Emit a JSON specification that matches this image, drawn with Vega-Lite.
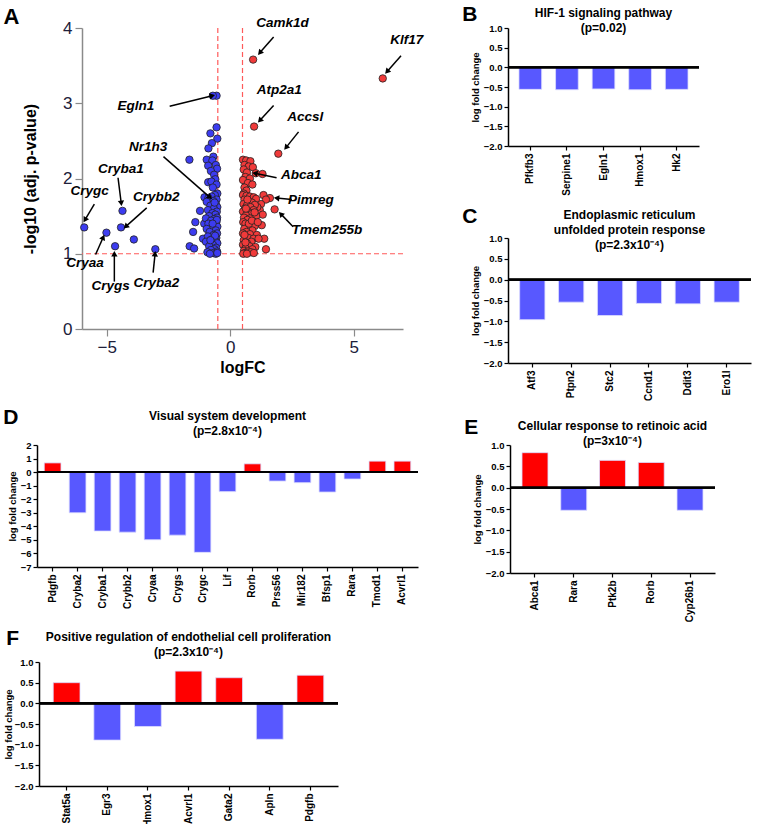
{
"$schema": "https://vega.github.io/schema/vega-lite/v6.json",
"background": "white",
"padding": {"left": 0, "top": 4, "right": 0, "bottom": 0},
"datasets": {
 "ann": [
  {"gene": "Camk1d", "tx": 2.12, "ty": 4.07, "x1": 1.76, "y1": 3.88, "x2": 1.20, "y2": 3.67},
  {"gene": "Klf17", "tx": 7.15, "ty": 3.84, "x1": 6.92, "y1": 3.63, "x2": 6.35, "y2": 3.42},
  {"gene": "Atp2a1", "tx": 1.99, "ty": 3.18, "x1": 1.76, "y1": 2.97, "x2": 1.20, "y2": 2.77},
  {"gene": "Accsl", "tx": 3.04, "ty": 2.82, "x1": 2.77, "y1": 2.62, "x2": 2.26, "y2": 2.41},
  {"gene": "Abca1", "tx": 2.88, "ty": 2.05, "x1": 1.88, "y1": 2.01, "x2": 1.00, "y2": 2.07},
  {"gene": "Pimreg", "tx": 3.27, "ty": 1.71, "x1": 2.50, "y1": 1.72, "x2": 1.88, "y2": 1.74},
  {"gene": "Tmem255b", "tx": 3.92, "ty": 1.31, "x1": 2.55, "y1": 1.36, "x2": 2.05, "y2": 1.53},
  {"gene": "Egln1", "tx": -3.82, "ty": 2.96, "x1": -2.45, "y1": 2.96, "x2": -0.72, "y2": 3.10},
  {"gene": "Nr1h3", "tx": -3.32, "ty": 2.42, "x1": -2.70, "y1": 2.29, "x2": -0.82, "y2": 1.75},
  {"gene": "Cryba1", "tx": -4.43, "ty": 2.12, "x1": -4.54, "y1": 2.01, "x2": -4.41, "y2": 1.67},
  {"gene": "Crygc", "tx": -5.69, "ty": 1.84, "x1": -5.50, "y1": 1.66, "x2": -5.88, "y2": 1.45},
  {"gene": "Crybb2", "tx": -2.99, "ty": 1.75, "x1": -3.38, "y1": 1.61, "x2": -4.23, "y2": 1.36},
  {"gene": "Cryaa", "tx": -5.88, "ty": 0.88, "x1": -5.45, "y1": 0.99, "x2": -5.14, "y2": 1.22},
  {"gene": "Crygs", "tx": -4.84, "ty": 0.57, "x1": -4.69, "y1": 0.63, "x2": -4.69, "y2": 1.00},
  {"gene": "Cryba2", "tx": -2.99, "ty": 0.61, "x1": -3.12, "y1": 0.75, "x2": -3.04, "y2": 1.00}
 ]
},
"config": {
  "view": {"stroke": null},
  "font": "Liberation Sans",
  "axis": {"grid": false, "labelOverlap": false, "domainColor": "#000", "domainWidth": 1.5, "tickColor": "#000", "tickWidth": 1.2, "tickSize": 4, "labelFont": "Liberation Sans", "labelFontWeight": "bold", "labelFontSize": 9.5, "labelColor": "#000", "titleFont": "Liberation Sans", "titleFontWeight": "bold", "titleFontSize": 9.5, "titleColor": "#000", "labelPadding": 2, "titlePadding": 3},
  "axisX": {"labelFontSize": 10},
  "title": {"font": "Liberation Sans", "fontWeight": "bold", "color": "#000", "fontSize": 12, "lineHeight": 15}
},
"vconcat": [
 {"vconcat": [
  {"hconcat": [
    {"width": 1, "height": 1, "data": {"values": []}, "mark": "point"},
    {"hconcat": [
      {
       "width": 321, "height": 301,
       "title": {"text": "A", "anchor": "start", "frame": "bounds", "dx": -19, "fontSize": 22, "offset": -13},
       "layer": [
        {"data": {"values": [{"v": -0.5}, {"v": 0.5}]},
         "mark": {"type": "rule", "color": "#ff5a5a", "strokeDash": [5, 3], "strokeWidth": 1.2},
         "encoding": {"x": {"field": "v", "type": "quantitative", "scale": {"domain": [-6, 7], "nice": false}}}},
        {"data": {"values": [{"v": 1}]},
         "mark": {"type": "rule", "color": "#ff5a5a", "strokeDash": [5, 3], "strokeWidth": 1.2},
         "encoding": {"y": {"field": "v", "type": "quantitative", "scale": {"domain": [0, 4], "nice": false}}}},
        {"data": {"values": [
          {"logFC": -0.55, "nlp": 3.10}, {"logFC": -0.70, "nlp": 3.10},
          {"logFC": -0.55, "nlp": 2.68}, {"logFC": -0.80, "nlp": 2.60}, {"logFC": -0.52, "nlp": 2.53}, {"logFC": -0.74, "nlp": 2.47}, {"logFC": -0.88, "nlp": 2.40}, {"logFC": -0.68, "nlp": 2.29}, {"logFC": -0.95, "nlp": 2.25}, {"logFC": -0.72, "nlp": 2.24}, {"logFC": -0.58, "nlp": 2.18}, {"logFC": -0.89, "nlp": 2.17}, {"logFC": -0.53, "nlp": 2.13}, {"logFC": -0.78, "nlp": 2.10}, {"logFC": -0.65, "nlp": 2.05}, {"logFC": -0.60, "nlp": 1.99}, {"logFC": -0.89, "nlp": 1.95}, {"logFC": -0.76, "nlp": 1.96}, {"logFC": -0.55, "nlp": 1.92}, {"logFC": -0.70, "nlp": 1.88},
          {"logFC": -1.65, "nlp": 2.25}, {"logFC": -1.22, "nlp": 1.57}, {"logFC": -1.41, "nlp": 1.42}, {"logFC": -1.50, "nlp": 1.29}, {"logFC": -1.64, "nlp": 1.10}, {"logFC": -1.46, "nlp": 1.07}, {"logFC": -1.04, "nlp": 1.75}, {"logFC": -1.10, "nlp": 1.20}, {"logFC": -1.05, "nlp": 1.40},
          {"logFC": -0.52, "nlp": 1.80}, {"logFC": -0.62, "nlp": 1.78}, {"logFC": -0.75, "nlp": 1.76}, {"logFC": -0.88, "nlp": 1.74}, {"logFC": -0.55, "nlp": 1.72}, {"logFC": -0.68, "nlp": 1.70}, {"logFC": -0.95, "nlp": 1.69}, {"logFC": -0.58, "nlp": 1.66}, {"logFC": -0.80, "nlp": 1.64}, {"logFC": -0.52, "nlp": 1.62}, {"logFC": -0.66, "nlp": 1.60}, {"logFC": -0.90, "nlp": 1.58}, {"logFC": -0.54, "nlp": 1.56}, {"logFC": -0.72, "nlp": 1.54}, {"logFC": -0.60, "nlp": 1.52}, {"logFC": -0.85, "nlp": 1.50}, {"logFC": -0.53, "nlp": 1.48}, {"logFC": -0.98, "nlp": 1.47}, {"logFC": -0.65, "nlp": 1.46}, {"logFC": -0.77, "nlp": 1.44}, {"logFC": -0.56, "nlp": 1.42}, {"logFC": -0.88, "nlp": 1.40}, {"logFC": -0.62, "nlp": 1.38}, {"logFC": -0.52, "nlp": 1.36}, {"logFC": -0.74, "nlp": 1.34}, {"logFC": -0.95, "nlp": 1.33}, {"logFC": -0.58, "nlp": 1.31}, {"logFC": -0.83, "nlp": 1.29}, {"logFC": -0.53, "nlp": 1.27}, {"logFC": -0.67, "nlp": 1.25}, {"logFC": -0.90, "nlp": 1.23}, {"logFC": -0.56, "nlp": 1.21}, {"logFC": -0.75, "nlp": 1.19}, {"logFC": -0.60, "nlp": 1.17}, {"logFC": -0.98, "nlp": 1.16}, {"logFC": -0.52, "nlp": 1.14}, {"logFC": -0.70, "nlp": 1.12}, {"logFC": -0.85, "nlp": 1.10}, {"logFC": -0.57, "nlp": 1.08}, {"logFC": -0.64, "nlp": 1.06}, {"logFC": -0.78, "nlp": 1.05}, {"logFC": -0.53, "nlp": 1.03}, {"logFC": -0.92, "nlp": 1.02}, {"logFC": -0.68, "nlp": 1.01}, {"logFC": -0.58, "nlp": 1.00}, {"logFC": -0.82, "nlp": 1.00}, {"logFC": -0.52, "nlp": 1.01}, {"logFC": -0.61, "nlp": 1.24}, {"logFC": -0.54, "nlp": 1.45}, {"logFC": -0.63, "nlp": 1.68}, {"logFC": -0.71, "nlp": 1.40}, {"logFC": -0.80, "nlp": 1.18},
          {"logFC": -5.91, "nlp": 1.35}, {"logFC": -4.36, "nlp": 1.57}, {"logFC": -4.42, "nlp": 1.35}, {"logFC": -5.01, "nlp": 1.28}, {"logFC": -4.66, "nlp": 1.10}, {"logFC": -3.03, "nlp": 1.06}, {"logFC": -3.90, "nlp": 1.19},
          {"logFC": 0.52, "nlp": 2.25}, {"logFC": 0.65, "nlp": 2.24}, {"logFC": 0.82, "nlp": 2.23}, {"logFC": 0.58, "nlp": 2.18}, {"logFC": 0.75, "nlp": 2.16}, {"logFC": 0.92, "nlp": 2.15}, {"logFC": 0.55, "nlp": 2.12}, {"logFC": 0.68, "nlp": 2.08}, {"logFC": 1.04, "nlp": 2.07}, {"logFC": 1.31, "nlp": 2.06}, {"logFC": 0.62, "nlp": 2.02}, {"logFC": 0.80, "nlp": 2.00}, {"logFC": 0.52, "nlp": 1.98}, {"logFC": 0.72, "nlp": 1.94}, {"logFC": 0.90, "nlp": 1.92}, {"logFC": 0.58, "nlp": 1.88}, {"logFC": 0.66, "nlp": 1.84}, {"logFC": 0.55, "nlp": 1.80},
          {"logFC": 0.93, "nlp": 3.58}, {"logFC": 6.18, "nlp": 3.33}, {"logFC": 0.97, "nlp": 2.69}, {"logFC": 1.95, "nlp": 2.33}, {"logFC": 1.61, "nlp": 1.74}, {"logFC": 1.80, "nlp": 1.59}, {"logFC": 1.35, "nlp": 1.78}, {"logFC": 1.45, "nlp": 1.72}, {"logFC": 1.25, "nlp": 1.66}, {"logFC": 1.20, "nlp": 1.58}, {"logFC": 1.32, "nlp": 1.52}, {"logFC": 1.28, "nlp": 1.38}, {"logFC": 1.38, "nlp": 1.20}, {"logFC": 1.45, "nlp": 1.06}, {"logFC": 1.10, "nlp": 1.62},
          {"logFC": 0.52, "nlp": 1.78}, {"logFC": 0.66, "nlp": 1.77}, {"logFC": 0.80, "nlp": 1.76}, {"logFC": 0.95, "nlp": 1.75}, {"logFC": 1.05, "nlp": 1.73}, {"logFC": 0.58, "nlp": 1.72}, {"logFC": 0.73, "nlp": 1.70}, {"logFC": 0.88, "nlp": 1.68}, {"logFC": 0.54, "nlp": 1.66}, {"logFC": 1.00, "nlp": 1.65}, {"logFC": 0.68, "nlp": 1.64}, {"logFC": 0.82, "nlp": 1.62}, {"logFC": 0.60, "nlp": 1.60}, {"logFC": 0.95, "nlp": 1.58}, {"logFC": 0.52, "nlp": 1.56}, {"logFC": 0.75, "nlp": 1.55}, {"logFC": 0.88, "nlp": 1.53}, {"logFC": 0.64, "nlp": 1.51}, {"logFC": 1.05, "nlp": 1.50}, {"logFC": 0.56, "nlp": 1.48}, {"logFC": 0.80, "nlp": 1.47}, {"logFC": 0.70, "nlp": 1.45}, {"logFC": 0.93, "nlp": 1.43}, {"logFC": 0.53, "nlp": 1.42}, {"logFC": 0.62, "nlp": 1.40}, {"logFC": 0.85, "nlp": 1.38}, {"logFC": 1.00, "nlp": 1.37}, {"logFC": 0.72, "nlp": 1.35}, {"logFC": 0.57, "nlp": 1.33}, {"logFC": 0.90, "nlp": 1.31}, {"logFC": 0.66, "nlp": 1.29}, {"logFC": 0.52, "nlp": 1.27}, {"logFC": 0.80, "nlp": 1.26}, {"logFC": 1.08, "nlp": 1.25}, {"logFC": 0.60, "nlp": 1.23}, {"logFC": 0.74, "nlp": 1.21}, {"logFC": 0.95, "nlp": 1.20}, {"logFC": 0.55, "nlp": 1.18}, {"logFC": 0.86, "nlp": 1.16}, {"logFC": 0.68, "nlp": 1.14}, {"logFC": 0.52, "nlp": 1.12}, {"logFC": 0.78, "nlp": 1.10}, {"logFC": 1.02, "nlp": 1.09}, {"logFC": 0.62, "nlp": 1.07}, {"logFC": 0.90, "nlp": 1.06}, {"logFC": 0.56, "nlp": 1.04}, {"logFC": 0.72, "nlp": 1.03}, {"logFC": 0.84, "nlp": 1.02}, {"logFC": 0.60, "nlp": 1.01}, {"logFC": 0.53, "nlp": 1.00}, {"logFC": 0.68, "nlp": 1.00}, {"logFC": 0.96, "nlp": 1.01}, {"logFC": 0.76, "nlp": 1.40}, {"logFC": 0.64, "nlp": 1.60}, {"logFC": 0.58, "nlp": 1.25}, {"logFC": 0.88, "nlp": 1.44}, {"logFC": 0.70, "nlp": 1.72}, {"logFC": 0.62, "nlp": 1.15}, {"logFC": 1.12, "nlp": 1.42}, {"logFC": 1.15, "nlp": 1.20}, {"logFC": 0.99, "nlp": 1.55}
         ]},
         "mark": {"type": "circle", "size": 55, "stroke": "#222", "strokeWidth": 0.8, "opacity": 1},
         "encoding": {
           "x": {"field": "logFC", "type": "quantitative", "scale": {"domain": [-6, 7], "nice": false},
                 "axis": {"title": "logFC", "values": [-5, 0, 5], "tickCount": 20, "format": "d", "labelOverlap": false, "domainColor": "#8a8a8a", "tickColor": "#8a8a8a", "tickSize": 7, "labelFontSize": 17, "labelFontWeight": "normal", "labelColor": "#20203a", "labelPadding": 3, "titleFontSize": 16, "titlePadding": 4}},
           "y": {"field": "nlp", "type": "quantitative", "scale": {"domain": [0, 4], "nice": false},
                 "axis": {"title": "-log10 (adj. p-value)", "values": [0, 1, 2, 3, 4], "tickCount": 20, "format": "d", "labelOverlap": false, "domainColor": "#8a8a8a", "tickColor": "#8a8a8a", "tickSize": 7, "labelFontSize": 17, "labelFontWeight": "normal", "labelColor": "#20203a", "labelPadding": 3, "titleFontSize": 16, "titlePadding": 24}},
           "color": {"condition": {"test": "datum.logFC > 0", "value": "#f03a3a"}, "value": "#3c3cf0"}
         }},
        {"data": {"name": "ann"},
         "mark": {"type": "rule", "color": "#000", "strokeWidth": 1.5},
         "encoding": {
           "x": {"field": "x1", "type": "quantitative", "scale": {"domain": [-6, 7], "nice": false}},
           "y": {"field": "y1", "type": "quantitative", "scale": {"domain": [0, 4], "nice": false}},
           "x2": {"field": "x2"}, "y2": {"field": "y2"}
         }},
        {"data": {"name": "ann"},
         "mark": {"type": "point", "shape": "triangle-up", "filled": true, "color": "#000", "size": 40, "opacity": 1},
         "encoding": {
           "x": {"field": "x2", "type": "quantitative", "scale": {"domain": [-6, 7], "nice": false}},
           "y": {"field": "y2", "type": "quantitative", "scale": {"domain": [0, 4], "nice": false}},
           "angle": {"field": "gene", "type": "nominal", "legend": null,
             "scale": {"type": "ordinal", "domain": ["Camk1d", "Klf17", "Atp2a1", "Accsl", "Abca1", "Pimreg", "Tmem255b", "Egln1", "Nr1h3", "Cryba1", "Crygc", "Crybb2", "Cryaa", "Crygs", "Cryba2"],
                       "range": [221, 222, 222, 219, 282, 276, 316, 76, 131, 173, 211, 228, 24, 0, 6]}}
         }},
        {"data": {"name": "ann"},
         "mark": {"type": "text", "font": "Liberation Sans", "fontWeight": "bold", "fontStyle": "italic", "fontSize": 13.5, "color": "#000", "align": "center", "baseline": "middle"},
         "encoding": {
           "x": {"field": "tx", "type": "quantitative", "scale": {"domain": [-6, 7], "nice": false}},
           "y": {"field": "ty", "type": "quantitative", "scale": {"domain": [0, 4], "nice": false}},
           "text": {"field": "gene"}
         }}
       ]
      },
      {"vconcat": [
        {"title": {"text": "B", "anchor": "start", "frame": "bounds", "fontSize": 21, "offset": -18, "dx": -8},
         "hconcat": [{
          "width": 191, "height": 118,
          "title": {"text": ["HIF-1 signaling pathway", "(p=0.02)"], "anchor": "middle", "frame": "group", "offset": -12},
          "data": {"values": [{"gene": "Pfkfb3", "lfc": -0.56}, {"gene": "Serpine1", "lfc": -0.57}, {"gene": "Egln1", "lfc": -0.55}, {"gene": "Hmox1", "lfc": -0.57}, {"gene": "Hk2", "lfc": -0.56}]},
          "layer": [
           {"mark": {"type": "bar", "stroke": "#dcdcff", "strokeWidth": 0.8},
            "encoding": {
              "x": {"field": "gene", "type": "nominal", "sort": null, "scale": {"paddingInner": 0.38, "paddingOuter": 0.3}, "axis": {"title": null, "labelAngle": -90, "labelPadding": 3}},
              "y": {"field": "lfc", "type": "quantitative", "scale": {"domain": [-2, 1], "nice": false}, "axis": {"title": "log fold change", "values": [-2, -1.5, -1, -0.5, 0, 0.5, 1], "tickCount": 20, "format": ".1f", "labelOverlap": false}},
              "color": {"condition": {"test": "datum.lfc > 0", "value": "#ff0000"}, "value": "#5858ff"}}},
           {"mark": {"type": "rule", "color": "#000", "strokeWidth": 1.8}, "encoding": {"y": {"datum": 0}}}
          ]
         }]},
        {"title": {"text": "C", "anchor": "start", "frame": "bounds", "fontSize": 21, "offset": -18, "dx": -8},
         "hconcat": [{
          "width": 243, "height": 125,
          "title": {"text": ["Endoplasmic reticulum", "unfolded protein response", "(p=2.3x10⁻⁴)"], "anchor": "middle", "frame": "group", "offset": -19},
          "data": {"values": [{"gene": "Atf3", "lfc": -0.96}, {"gene": "Ptpn2", "lfc": -0.54}, {"gene": "Stc2", "lfc": -0.86}, {"gene": "Ccnd1", "lfc": -0.57}, {"gene": "Ddit3", "lfc": -0.58}, {"gene": "Ero1l", "lfc": -0.54}]},
          "layer": [
           {"mark": {"type": "bar", "stroke": "#dcdcff", "strokeWidth": 0.8},
            "encoding": {
              "x": {"field": "gene", "type": "nominal", "sort": null, "scale": {"paddingInner": 0.35, "paddingOuter": 0.3}, "axis": {"title": null, "labelAngle": -90, "labelPadding": 3}},
              "y": {"field": "lfc", "type": "quantitative", "scale": {"domain": [-2, 1], "nice": false}, "axis": {"title": "log fold change", "values": [-2, -1.5, -1, -0.5, 0, 0.5, 1], "tickCount": 20, "format": ".1f", "labelOverlap": false}},
              "color": {"condition": {"test": "datum.lfc > 0", "value": "#ff0000"}, "value": "#5858ff"}}},
           {"mark": {"type": "rule", "color": "#000", "strokeWidth": 1.8}, "encoding": {"y": {"datum": 0}}}
          ]
         }]}
       ], "spacing": 10}
    ], "spacing": 38}
  ], "spacing": 2},
  {"hconcat": [
    {"width": 1, "height": 1, "data": {"values": []}, "mark": "point"},
    {"hconcat": [
      {"title": {"text": "D", "anchor": "start", "frame": "bounds", "fontSize": 21, "offset": -18, "dx": -4},
       "hconcat": [{
        "width": 381, "height": 122,
        "title": {"text": ["Visual system development", "(p=2.8x10⁻⁴)"], "anchor": "middle", "frame": "group", "offset": 2},
        "data": {"values": [{"gene": "Pdgfb", "lfc": 0.68}, {"gene": "Cryba2", "lfc": -3.0}, {"gene": "Cryba1", "lfc": -4.35}, {"gene": "Crybb2", "lfc": -4.43}, {"gene": "Cryaa", "lfc": -4.99}, {"gene": "Crygs", "lfc": -4.65}, {"gene": "Crygc", "lfc": -5.92}, {"gene": "Lif", "lfc": -1.44}, {"gene": "Rorb", "lfc": 0.61}, {"gene": "Prss56", "lfc": -0.66}, {"gene": "Mir182", "lfc": -0.78}, {"gene": "Bfsp1", "lfc": -1.47}, {"gene": "Rara", "lfc": -0.51}, {"gene": "Tmod1", "lfc": 0.81}, {"gene": "Acvrl1", "lfc": 0.81}]},
        "layer": [
         {"mark": {"type": "bar", "stroke": "#dcdcff", "strokeWidth": 0.8},
          "encoding": {
            "x": {"field": "gene", "type": "nominal", "sort": null, "scale": {"paddingInner": 0.33, "paddingOuter": 0.29}, "axis": {"title": null, "labelAngle": -90, "labelPadding": 3}},
            "y": {"field": "lfc", "type": "quantitative", "scale": {"domain": [-7, 2], "nice": false}, "axis": {"title": "log fold change", "values": [-7, -6, -5, -4, -3, -2, -1, 0, 1, 2], "tickCount": 20, "format": "d", "labelOverlap": false}},
            "color": {"condition": {"test": "datum.lfc > 0", "value": "#ff0000"}, "value": "#5858ff"}}},
         {"mark": {"type": "rule", "color": "#000", "strokeWidth": 1.8}, "encoding": {"y": {"datum": 0}}}
        ]
       }]},
      {"title": {"text": "E", "anchor": "start", "frame": "bounds", "fontSize": 21, "offset": -18, "dx": -8},
       "hconcat": [{
        "width": 205, "height": 128,
        "title": {"text": ["Cellular response to retinoic acid", "(p=3x10⁻⁴)"], "anchor": "middle", "frame": "group", "offset": -8},
        "data": {"values": [{"gene": "Abca1", "lfc": 0.82}, {"gene": "Rara", "lfc": -0.53}, {"gene": "Ptk2b", "lfc": 0.64}, {"gene": "Rorb", "lfc": 0.59}, {"gene": "Cyp26b1", "lfc": -0.53}]},
        "layer": [
         {"mark": {"type": "bar", "stroke": "#dcdcff", "strokeWidth": 0.8},
          "encoding": {
            "x": {"field": "gene", "type": "nominal", "sort": null, "scale": {"paddingInner": 0.33, "paddingOuter": 0.31}, "axis": {"title": null, "labelAngle": -90, "labelPadding": 3}},
            "y": {"field": "lfc", "type": "quantitative", "scale": {"domain": [-2, 1], "nice": false}, "axis": {"title": "log fold change", "values": [-2, -1.5, -1, -0.5, 0, 0.5, 1], "tickCount": 20, "format": ".1f", "labelOverlap": false}},
            "color": {"condition": {"test": "datum.lfc > 0", "value": "#ff0000"}, "value": "#5858ff"}}},
         {"mark": {"type": "rule", "color": "#000", "strokeWidth": 1.8}, "encoding": {"y": {"datum": 0}}}
        ]
       }]}
    ], "spacing": 45}
  ], "spacing": 2}
 ], "spacing": 6},
 {"hconcat": [
   {"width": 1, "height": 1, "data": {"values": []}, "mark": "point"},
   {"title": {"text": "F", "anchor": "start", "frame": "bounds", "fontSize": 21, "offset": -18, "dx": 3},
    "hconcat": [{
     "width": 299, "height": 124,
     "title": {"text": ["Positive regulation of endothelial cell proliferation", "(p=2.3x10⁻⁴)"], "anchor": "middle", "frame": "group", "offset": -2},
     "data": {"values": [{"gene": "Stat5a", "lfc": 0.50}, {"gene": "Egr3", "lfc": -0.89}, {"gene": "Hmox1", "lfc": -0.56}, {"gene": "Acvrl1", "lfc": 0.78}, {"gene": "Gata2", "lfc": 0.62}, {"gene": "Apln", "lfc": -0.87}, {"gene": "Pdgfb", "lfc": 0.68}]},
     "layer": [
      {"mark": {"type": "bar", "stroke": "#dcdcff", "strokeWidth": 0.8},
       "encoding": {
         "x": {"field": "gene", "type": "nominal", "sort": null, "scale": {"paddingInner": 0.34, "paddingOuter": 0.35}, "axis": {"title": null, "labelAngle": -90, "labelPadding": 3}},
         "y": {"field": "lfc", "type": "quantitative", "scale": {"domain": [-2, 1], "nice": false}, "axis": {"title": "log fold change", "values": [-2, -1.5, -1, -0.5, 0, 0.5, 1], "tickCount": 20, "format": ".1f", "labelOverlap": false, "titlePadding": 1}},
         "color": {"condition": {"test": "datum.lfc > 0", "value": "#ff0000"}, "value": "#5858ff"}}},
      {"mark": {"type": "rule", "color": "#000", "strokeWidth": 1.8}, "encoding": {"y": {"datum": 0}}}
     ]
    }]}
 ], "spacing": 2}
], "spacing": 6}
